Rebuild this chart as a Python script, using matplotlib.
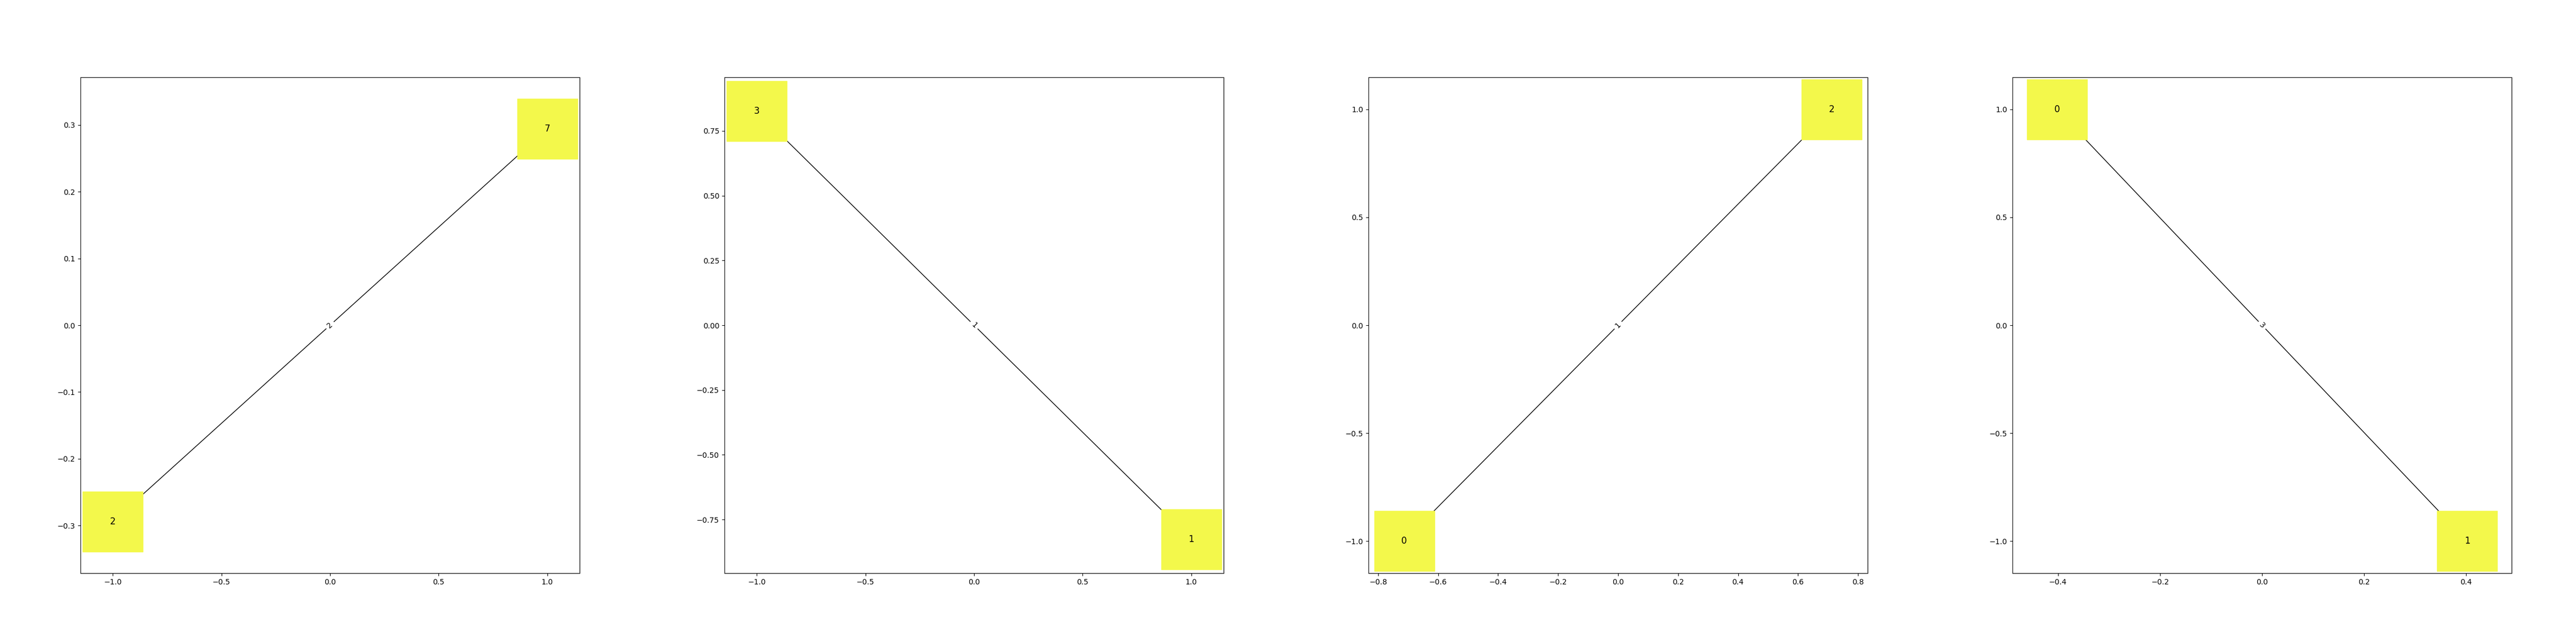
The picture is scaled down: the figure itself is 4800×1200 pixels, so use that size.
#!/usr/bin/env python3
"""
Cuatro grafos de dos nodos (cuadros amarillos) unidos por una arista con su peso.
Cada panel ocupa un cuarto del ancho con los margenes por defecto de matplotlib.
"""
import matplotlib
matplotlib.use("Agg")
import matplotlib.pyplot as plt
import numpy as np

# --- datos -----------------------------------------------------------------
NODOS = [(2, 7), (3, 1), (0, 2), (0, 1)]            # etiquetas (nodo a, nodo b)
POS_X = [(-1.0, 1.0), (-1.0, 1.0), (-0.713, 0.713), (-0.402, 0.402)]
POS_Y = [(-0.294, 0.294), (0.826, -0.826), (-1.0, 1.0), (1.0, -1.0)]
PESOS = ["2", "1", "1", "3"]                          # etiqueta de la arista
XLIM = [1.149, 1.149, 0.832, 0.489]                   # limites simetricos
YLIM = [0.3715, 0.957, 1.149, 1.149]

COLOR_NODO = "#f3f84b"


def dibujar(ax, i):
    xs = np.array(POS_X[i]); ys = np.array(POS_Y[i])
    ax.plot(xs, ys, color="black", lw=1.0, zorder=1)
    ax.scatter(xs, ys, s=6400, marker="s", c=COLOR_NODO, zorder=2)
    for x, y, lab in zip(xs, ys, NODOS[i]):
        ax.text(x, y, str(lab), fontsize=12, ha="center", va="center", zorder=3)
    # etiqueta de la arista: en el medio, girada segun la arista (como networkx)
    ang = np.degrees(np.arctan2(ys[1] - ys[0], xs[1] - xs[0]))
    if ang > 90:
        ang -= 180
    if ang < -90:
        ang += 180
    ax.text(xs.mean(), ys.mean(), PESOS[i], fontsize=10, ha="center", va="center",
            rotation=ang, transform_rotates_text=True, rotation_mode="anchor",
            bbox=dict(boxstyle="round", ec="white", fc="white"), zorder=4)
    ax.set_xlim(-XLIM[i], XLIM[i])
    ax.set_ylim(-YLIM[i], YLIM[i])


fig = plt.figure(figsize=(48, 12), dpi=100)
for i in range(4):
    ax = fig.add_axes([(i + 0.125) / 4, 0.11, 0.775 / 4, 0.77])
    dibujar(ax, i)

fig.savefig("out.png", dpi=100)
